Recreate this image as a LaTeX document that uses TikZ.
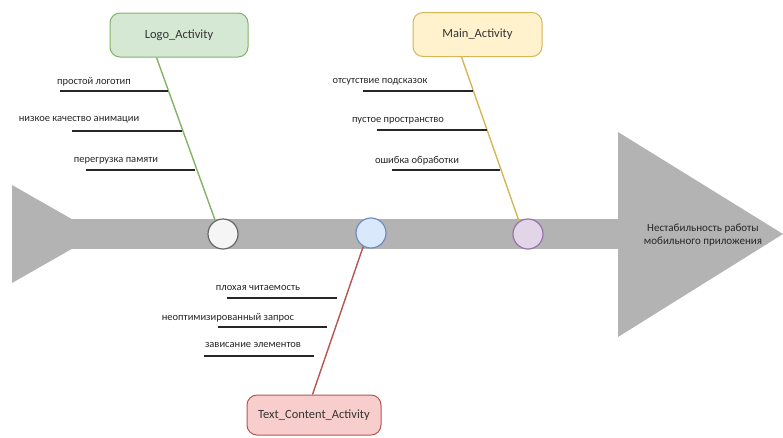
\documentclass[tikz,border=0pt]{standalone}
\usepackage{fontspec}
\setmainfont{Carlito}
\definecolor{band}{HTML}{B3B3B3}
\definecolor{gfill}{HTML}{D5E8D4}\definecolor{gline}{HTML}{82B366}
\definecolor{yfill}{HTML}{FFF2CC}\definecolor{yline}{HTML}{D6B656}
\definecolor{rfill}{HTML}{F8CECC}\definecolor{rline}{HTML}{B85450}
\definecolor{bfill}{HTML}{DAE8FC}\definecolor{bline}{HTML}{6C8EBF}
\definecolor{pfill}{HTML}{E1D5E7}\definecolor{pline}{HTML}{9673A6}
\definecolor{cfill}{HTML}{F5F5F5}\definecolor{cline}{HTML}{666666}
\tikzset{
  catbox/.style={draw, line width=1pt, rounded corners=10pt, minimum width=138pt, minimum height=44pt, font=\fontsize{12.5}{14}\selectfont, text=black!80},
  joint/.style={circle, draw, line width=1.2pt, minimum size=30pt, inner sep=0pt},
  cause/.style={line width=2pt, draw=black!85},
  ctext/.style={font=\fontsize{10.5}{12}\selectfont, inner sep=0pt, text=black!85},
  bone/.style={line width=1.4pt}
}
\begin{document}
\begin{tikzpicture}[x=1pt,y=-1pt]
\useasboundingbox (0,0) rectangle (783,437);
% spine
\fill[band] (12,185) -- (12,283) -- (98,234) -- cycle;
\fill[band] (60,219) rectangle (620,249);
\fill[band] (618,132) -- (783,234) -- (618,337) -- cycle;
\node[font=\fontsize{11}{13.5}\selectfont, align=center, inner sep=0pt, text=black!85] (effect) at (703,235) {Нестабильность работы\\мобильного приложения};
% joints
\node[joint, fill=cfill, draw=cline] (c1) at (223,234) {};
\node[joint, fill=bfill, draw=bline] (c2) at (371,233) {};
\node[joint, fill=pfill, draw=pline] (c3) at (528,234) {};
% category boxes
\node[catbox, fill=gfill, draw=gline] (logo) at (179,35) {Logo\_Activity};
\node[catbox, fill=yfill, draw=yline, minimum width=129pt] (main) at (477.5,34.5) {Main\_Activity};
\node[catbox, fill=rfill, draw=rline, minimum width=134pt, minimum height=40pt] (text) at (314,415) {Text\_Content\_Activity};
% bones
\draw[bone, draw=gline] ([xshift=47pt]logo.south west) -- (c1.120);
\draw[bone, draw=yline] ([xshift=49pt]main.south west) -- (c3.125);
\draw[bone, draw=rline] (c2.240) -- ([xshift=66pt]text.north west);
% causes Logo
\draw[cause] (60,90.7) -- (168,90.7);
\node[ctext] (l1) at (94,82) {простой логотип};
\draw[cause] (72,130.7) -- (182,130.7);
\node[ctext] (l2) at (79,120) {низкое качество анимации};
\draw[cause] (86,170) -- (195,170);
\node[ctext] (l3) at (116,161) {перегрузка памяти};
% causes Main
\draw[cause] (363,91) -- (473,91);
\node[ctext] (m1) at (380,82) {отсутствие подсказок};
\draw[cause] (377,130) -- (487,130);
\node[ctext] (m2) at (398,121) {пустое пространство};
\draw[cause] (392,170) -- (500,170);
\node[ctext] (m3) at (417,161) {ошибка обработки};
% causes Text
\draw[cause] (227,298) -- (337,298);
\node[ctext] (t1) at (258,288) {плохая читаемость};
\draw[cause] (218,327) -- (327,327);
\node[ctext] (t2) at (228,318) {неоптимизированный запрос};
\draw[cause] (204,356) -- (314,356);
\node[ctext] (t3) at (253,345) {зависание элементов};
\end{tikzpicture}
\end{document}
